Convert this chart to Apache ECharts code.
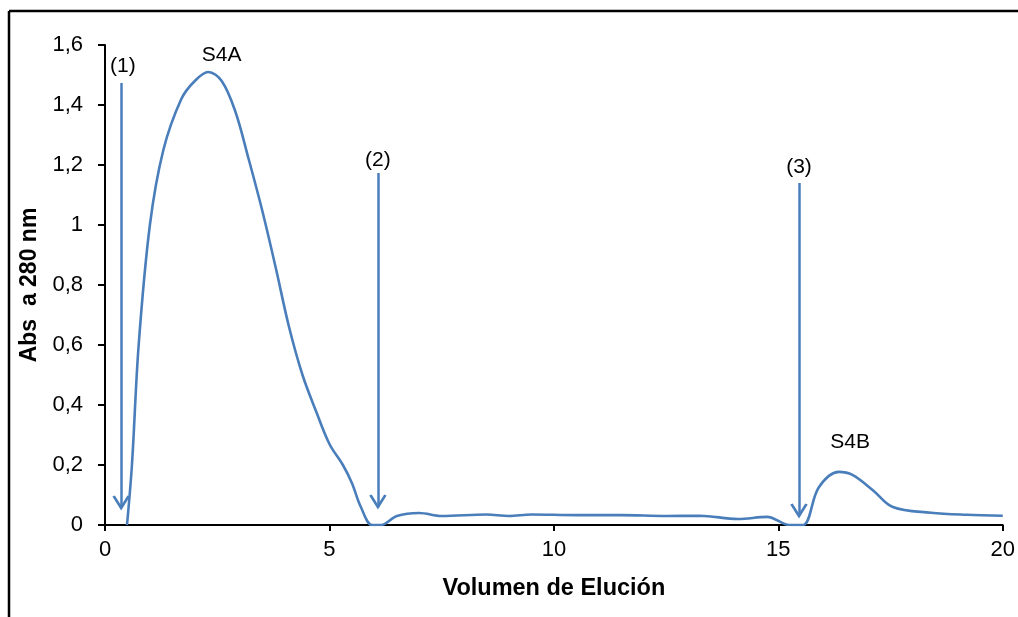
<!DOCTYPE html>
<html>
<head>
<meta charset="utf-8">
<script src="https://cdn.jsdelivr.net/npm/echarts@6/dist/echarts.min.js"></script>
<style>html,body{margin:0;padding:0;background:#fff;}#c{width:1018px;height:617px;}</style>
</head>
<body>
<div id="c"></div>
<script>
// Elution volume (x) and absorbance (y)
const volumen = [0.49,0.6,0.75,1.0,1.3,1.7,2.0,2.3,2.6,2.9,3.2,3.5,3.8,4.1,4.4,4.7,5.0,5.3,5.5,5.7,5.95,6.15,6.5,7.0,7.5,8.5,9.0,9.5,10.5,11.5,12.5,13.25,14.1,14.75,15.25,15.55,15.9,16.35,16.65,17.1,17.55,18.4,19.2,20];
const absorbancia = [0,0.2,0.6,1.0,1.25,1.42,1.48,1.51,1.48,1.38,1.22,1.05,0.86,0.66,0.5,0.38,0.27,0.2,0.14,0.06,0,0,0.03,0.04,0.03,0.035,0.03,0.035,0.033,0.033,0.03,0.031,0.02,0.027,0,0,0.125,0.177,0.167,0.117,0.06,0.041,0.034,0.031];
// Arrows: x position, top value, tip value
const flechaX = [0.36, 6.08, 15.46];
const flechaTop = [1.473, 1.173, 1.14];
const flechaTip = [0.057, 0.06, 0.03];
// Annotation labels
const etiquetas = ['(1)','(2)','(3)','S4A','S4B'];
const etiquetaX = [0.4, 6.08, 15.46, 2.6, 16.6];
const etiquetaY = [1.53, 1.217, 1.193, 1.565, 0.275];
const xTicks = [0,5,10,15,20];

const chart = echarts.init(document.getElementById('c'), null, {renderer:'canvas'});
const blue = '#4A7EBB';
const font = '"Liberation Sans", Arial, sans-serif';
const chevron = 'path://M0,0 L5,9 L10,0';

chart.setOption({
  animation:false,
  backgroundColor:'#fff',
  grid:{left:105,right:15,top:45,bottom:92,containLabel:false},
  xAxis:{
    type:'value',min:0,max:20,interval:5,
    name:'Volumen de Elución',nameLocation:'middle',nameGap:52,
    nameTextStyle:{fontFamily:font,fontWeight:'bold',fontSize:23.5,color:'#000'},
    axisLine:{show:true,onZero:false,lineStyle:{color:'#000',width:2}},
    axisTick:{show:true,length:6,lineStyle:{color:'#000',width:2}},
    axisLabel:{fontFamily:font,fontSize:22,color:'#000',margin:14,
      formatter:v=>xTicks.includes(v)?String(v):''},
    splitLine:{show:false}
  },
  yAxis:{
    type:'value',min:0,max:1.6,interval:0.2,
    name:'Abs  a 280 nm',nameLocation:'middle',nameGap:60,
    nameTextStyle:{fontFamily:font,fontWeight:'bold',fontSize:23,color:'#000'},
    axisLine:{show:true,lineStyle:{color:'#000',width:2}},
    axisTick:{show:true,length:7,lineStyle:{color:'#000',width:2}},
    axisLabel:{fontFamily:font,fontSize:22,color:'#000',margin:22,
      formatter:v=>String(Math.round(v*10)/10).replace('.',',')},
    splitLine:{show:false}
  },
  graphic:[
    {type:'line',shape:{x1:9,y1:11,x2:1018,y2:11},style:{stroke:'#000',lineWidth:2.5}},
    {type:'line',shape:{x1:9,y1:11,x2:9,y2:617},style:{stroke:'#000',lineWidth:2.5}}
  ],
  series:[
    {
      type:'line',
      data:volumen.map((v,i)=>[v,absorbancia[i]]),
      smooth:0.35,
      showSymbol:false,
      lineStyle:{color:blue,width:2.6},
      z:3
    },
    {
      type:'line',
      data:[],
      markLine:{
        silent:true,
        symbol:['none','none'],
        label:{show:false},
        lineStyle:{color:blue,width:2.5,type:'solid'},
        data:flechaX.map((x,i)=>[{coord:[x,flechaTop[i]]},{coord:[x,flechaTip[i]]}])
      }
    },
    {
      type:'scatter',
      symbol:chevron,
      symbolSize:[15,12],
      symbolOffset:[0,-6],
      symbolKeepAspect:false,
      itemStyle:{color:'rgba(0,0,0,0)',borderColor:blue,borderWidth:2.5,opacity:1},
      data:flechaX.map((x,i)=>[x,flechaTip[i]]),
      z:4,
      silent:true
    },
    {
      type:'scatter',
      symbolSize:0,
      itemStyle:{opacity:1},
      data:etiquetas.map((t,i)=>({name:t,value:[etiquetaX[i],etiquetaY[i]]})),
      label:{show:true,position:'inside',formatter:p=>p.name,opacity:1,
        fontFamily:font,fontSize:21,color:'#000',textBorderWidth:0},
      z:4,
      silent:true
    }
  ]
});
</script>
</body>
</html>
